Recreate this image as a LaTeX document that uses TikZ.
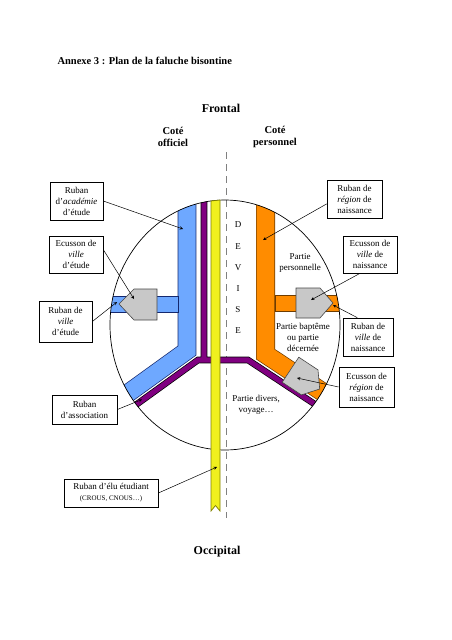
\documentclass[tikz,border=0pt]{standalone}
\usepackage{fontspec}
\setmainfont{Liberation Serif}
\definecolor{bleuruban}{RGB}{110,168,255}
\definecolor{bleufonce}{RGB}{20,40,110}
\definecolor{orangeruban}{RGB}{255,140,0}
\definecolor{orangefonce}{RGB}{110,60,0}
\definecolor{violetruban}{RGB}{128,0,128}
\definecolor{jauneruban}{RGB}{240,240,30}
\definecolor{jaunefonce}{RGB}{128,128,0}
\definecolor{grisecusson}{RGB}{200,200,200}
\definecolor{grisfonce}{RGB}{70,70,70}

\begin{document}
\begin{tikzpicture}[x=1pt,y=-1pt,>=stealth,
  etiquette/.style={draw,fill=white,line width=0.7pt,align=center,inner sep=1pt,font=\fontsize{9}{11}\selectfont},
  texte/.style={align=center,font=\fontsize{9}{11}\selectfont},
  titre/.style={font=\bfseries\fontsize{12}{14}\selectfont},
  cote/.style={align=center,font=\bfseries\fontsize{10.5}{12}\selectfont},
  fleche/.style={->,line width=0.5pt},
  ecusson/.style={fill=grisecusson,draw=grisfonce,line width=0.6pt},
  ruban/.style n args={3}{draw=#2,line width=#1,line join=miter,postaction={draw=#3,line width=#1-1.4pt}},
  bande/.style 2 args={fill=#2,draw=#1,line width=0.7pt}]
\useasboundingbox (0,0) rectangle (452,640);

\node[cote, anchor=west, font=\bfseries\fontsize{10.5}{12}\selectfont] (annexe) at (54,61) {Annexe 3 : Plan de la faluche bisontine};
\node[titre] (frontal) at (221,108) {Frontal};
\node[cote] (officiel) at (173,137) {Coté\\officiel};
\node[cote] (personnel) at (275,137) {Coté\\personnel};
\node[titre] (occipital) at (217,552) {Occipital};

\coordinate (pointilleHaut) at (226,152);
\coordinate (pointilleBas) at (226,518);
\draw[gray, line width=1pt, dash pattern=on 7pt off 5pt] (pointilleHaut) -- (pointilleBas);

\begin{scope}
\clip (225,325) ellipse [x radius=115, y radius=125];
\draw[ruban={18.6pt}{bleufonce}{bleuruban}] (187,180) -- (187,350.6) -- (110,406.2);
\draw[bande={bleufonce}{bleuruban}] (100,296) rectangle (178,312);
\draw[ruban={19pt}{orangefonce}{orangeruban}] (265.5,180) -- (265.5,354.2) -- (344.7,406.6);
\draw[bande={orangefonce}{orangeruban}] (275,295) rectangle (350,311);
\draw[ruban={6.6pt}{black}{violetruban}] (204,180) -- (204,360) (121,415.6) -- (198,360) -- (248,360) -- (327.2,412.4);
\end{scope}

\draw[line width=0.7pt] (225,325) ellipse [x radius=115, y radius=125];
\draw[fill=jauneruban, draw=jaunefonce, line width=0.7pt] (211,201) -- (220,200) -- (220,511) -- (215.5,505.5) -- (211,511) -- cycle;

\draw[ecusson] (119,304) -- (134,289) -- (157,289) -- (157,320) -- (134,320) -- cycle;
\draw[ecusson] (333,303) -- (320,288) -- (296,288) -- (296,318) -- (320,318) -- cycle;
\draw[ecusson] (319.7,389) -- (318,369.9) -- (298.8,357.2) -- (282.2,382.2) -- (301.4,394.9) -- cycle;

\node[texte, font=\fontsize{9}{21.2}\selectfont] (devise) at (238,278) {D\\E\\V\\I\\S\\E};
\node[texte] (personnelle) at (300,263) {Partie\\personnelle};
\node[texte] (bapteme) at (303,337.5) {Partie baptême\\ou partie\\décernée};
\node[texte] (divers) at (256,405) {Partie divers,\\voyage…};

\node[etiquette, minimum width=53pt, minimum height=38pt] (academie) at (76.5,201) {Ruban\\d’\textit{académie}\\d’étude};
\node[etiquette, minimum width=54pt, minimum height=37pt] (ecussonEtude) at (76,254.5) {Ecusson de\\\textit{ville}\\d’étude};
\node[etiquette, minimum width=53pt, minimum height=41pt] (villeEtude) at (65.5,321.5) {Ruban de\\\textit{ville}\\d’étude};
\node[etiquette, minimum width=65pt, minimum height=29pt] (association) at (84.5,409.5) {Ruban\\d’association};
\node[etiquette, minimum width=94pt, minimum height=28pt] (elu) at (111,493) {Ruban d’élu étudiant\\{\fontsize{7}{8}\selectfont (CROUS, CNOUS…)}};
\node[etiquette, minimum width=55pt, minimum height=38pt] (regionNaiss) at (354.5,199) {Ruban de\\\textit{région} de\\naissance};
\node[etiquette, minimum width=54pt, minimum height=37pt] (ecussonVille) at (370,254.5) {Ecusson de\\\textit{ville} de\\naissance};
\node[etiquette, minimum width=50pt, minimum height=38pt] (villeNaiss) at (368,337) {Ruban de\\\textit{ville} de\\naissance};
\node[etiquette, minimum width=55pt, minimum height=40pt] (ecussonRegion) at (366.5,387) {Ecusson de\\\textit{région} de\\naissance};

\coordinate (pAcademie) at (183,229);
\coordinate (pEcussonEtude) at (134,299);
\coordinate (pVilleEtude) at (117,302);
\coordinate (pAssociation) at (142,399.5);
\coordinate (pElu) at (217,467);
\coordinate (pRegion) at (263,240);
\coordinate (pEcussonVille) at (311,300);
\coordinate (pVilleNaiss) at (333,305);
\coordinate (pEcussonRegion) at (297,378);

\draw[fleche] (academie.east) -- (pAcademie);
\draw[fleche] (ecussonEtude.10) -- (pEcussonEtude);
\draw[fleche] (villeEtude.east) -- (pVilleEtude);
\draw[fleche] (association.east) -- (pAssociation);
\draw[fleche] (elu.east) -- (pElu);
\draw[fleche] (regionNaiss.190) -- (pRegion);
\draw[fleche] (ecussonVille.242) -- (pEcussonVille);
\draw[fleche] (villeNaiss.119) -- (pVilleNaiss);
\draw[fleche] (ecussonRegion.west) -- (pEcussonRegion);
\end{tikzpicture}
\end{document}
